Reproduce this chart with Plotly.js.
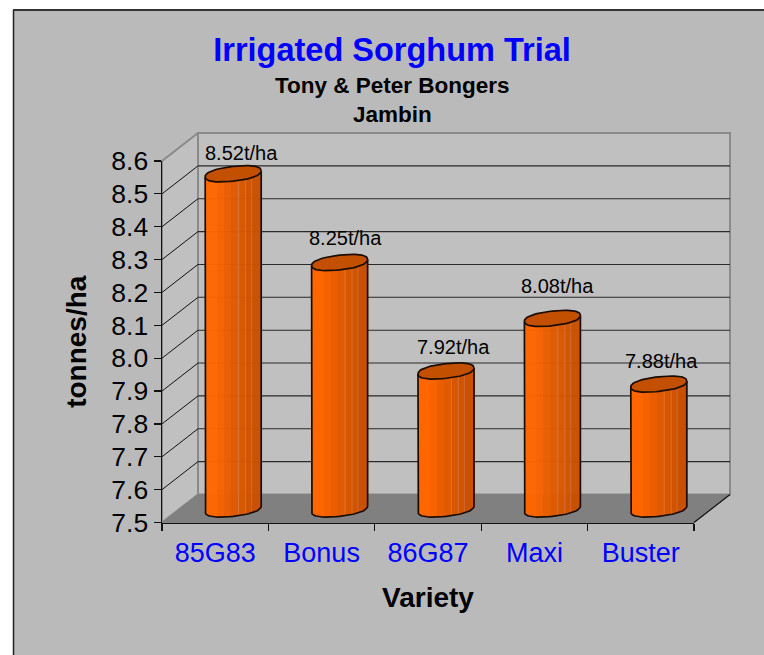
<!DOCTYPE html>
<html>
<head>
<meta charset="utf-8">
<script src="https://cdn.plot.ly/plotly-3.0.1.min.js"></script>
<style>html,body{margin:0;padding:0;background:#fff}#chart{width:764px;height:655px}</style>
</head>
<body>
<div id="chart"></div>
<script>
// ---- data ----
const categories = ['85G83', 'Bonus', '86G87', 'Maxi', 'Buster'];
const yields = [8.52, 8.25, 7.92, 8.08, 7.88];
const yTicks = [7.5, 7.6, 7.7, 7.8, 7.9, 8.0, 8.1, 8.2, 8.3, 8.4, 8.5, 8.6];
const yMin = 7.5, yMax = 8.6;

// ---- geometry & style ----
const W = 764, H = 655, FONT = 'Liberation Sans, Arial, sans-serif';
const front = {l: 162, r: 694, t: 161, b: 522.5};
const depth = {x: 36, y: 28};
const barShift = {x: 18, y: 13.5};
const pxCat = (front.r - front.l) / categories.length;
const pxVal = (front.b - front.t) / (yMax - yMin);
const barPx = 56, capTilt = 3, capB = 7.3, capPow = 2.3;
const labelNudge = [[8, -5], [6, -9], [7, -8], [5, -16], [3, -7]];
// colour bands across a cylinder, left to right: [pixels, colour]
const bands = [[12,'#FF6600'],[7,'#F76300'],[7,'#EA5E00'],[7,'#E05A00'],[1,'#DE7430'],[6,'#D85700'],[1,'#D66E30'],[5,'#D15400'],[1,'#CF6930'],[9,'#C95100']];

const xd = p => p / W, yd = p => 1 - p / H;
const dX = depth.x / pxCat, dY = depth.y / pxVal;
const pad = 30; // invisible padding so nothing clips at subplot edges
const padX = pad / pxCat, padY = pad / pxVal;

// scene axes: walls and floor
const scene = {
  x0: -0.5 - padX, x1: 4.5 + dX + padX, y0: yMin - padY, y1: yMax + dY + padY,
  dl: xd(front.l - pad), dr: xd(front.r + depth.x + pad),
  db: yd(front.b + pad), dt: yd(front.t - depth.y - pad)
};
const L = -0.5, R = 4.5;
const noHover = {hoverinfo: 'skip', showlegend: false};
function poly(xs, ys, fill, lineColor, lw) {
  return Object.assign({type:'scatter', mode:'lines', x:xs, y:ys, xaxis:'x', yaxis:'y',
    fill:'toself', fillcolor:fill, line:{color:lineColor, width:lw}}, noHover);
}
function path(xs, ys, color, w) {
  return Object.assign({type:'scatter', mode:'lines', x:xs, y:ys, xaxis:'x', yaxis:'y',
    line:{color:color, width:w}}, noHover);
}
const traces = [];
// walls
traces.push(poly([L, L+dX, L+dX, L, L], [yMin, yMin+dY, yMax+dY, yMax, yMin], '#C0C0C0', '#8A8A8A', 2));
traces.push(poly([L+dX, R+dX, R+dX, L+dX, L+dX], [yMin+dY, yMin+dY, yMax+dY, yMax+dY, yMin+dY], '#C0C0C0', '#8A8A8A', 2));
// gridlines
const inner = yTicks.slice(1, -1);
const backX = [], backY = [], diagX = [], diagY = [];
inner.forEach(v => {
  backX.push(L+dX, R+dX, null); backY.push(v+dY, v+dY, null);
  diagX.push(L, L+dX, null); diagY.push(v, v+dY, null);
});
traces.push(path(backX, backY, '#2a2a2a', 1.1));
traces.push(path(diagX, diagY, '#111111', 1));
// floor
traces.push(poly([L, R, R+dX, L+dX, L], [yMin, yMin, yMin+dY, yMin+dY, yMin], '#808080', '#808080', 1));
traces.push(path([R, R+dX], [yMin, yMin+dY], '#111111', 1.2));

// cylinder bodies: vertical strips of bar traces on the mid-depth axes
const capHalf = u => Math.pow(Math.max(0, 1 - Math.pow(Math.abs(u), capPow)), 1 / capPow);
let pos = 0;
const strips = [];
bands.forEach(b => { for (let k = 0; k < b[0]; k++) { strips.push({p: pos, c: b[1]}); pos++; } });
strips.forEach(s => {
  const u = ((s.p + 0.5) / barPx) * 2 - 1;
  const bottomOff = (capTilt * u - capB * capHalf(u)) / pxVal;
  const topOff = capTilt * u / pxVal;
  traces.push(Object.assign({
    type: 'bar', xaxis: 'x2', yaxis: 'y2',
    x: categories.map((_, i) => i),
    base: yields.map(() => yMin + bottomOff),
    y: yields.map(v => v + topOff - (yMin + bottomOff)),
    width: 1.6 / pxCat,
    offset: (s.p - barPx / 2 - 0.1) / pxCat,
    marker: {color: s.c, line: {width: 0}}
  }, noHover));
});
// cylinder outlines and caps: rounded, sheared discs
const ANG = 72;
function rim(t) {
  const c = Math.cos(t), sn = Math.sin(t), e = 2 / capPow;
  const u = Math.sign(c) * Math.pow(Math.abs(c), e), w = Math.sign(sn) * Math.pow(Math.abs(sn), e);
  return [u, w];
}
yields.forEach((v, i) => {
  const capX = [], capY = [];
  for (let a = 0; a <= ANG; a++) {
    const r = rim(a / ANG * 2 * Math.PI);
    capX.push(i + (barPx / 2) * r[0] / pxCat);
    capY.push(v + (capTilt * r[0] + capB * r[1]) / pxVal);
  }
  const outX = [], outY = [];
  for (let a = 0; a <= ANG / 2; a++) {
    const r = rim(Math.PI + a / (ANG / 2) * Math.PI);
    outX.push(i + (barPx / 2) * r[0] / pxCat);
    outY.push(yMin + (capTilt * r[0] + capB * r[1]) / pxVal);
  }
  const bodyX = [i - barPx / 2 / pxCat].concat(outX, [i + barPx / 2 / pxCat]);
  const bodyY = [v - capTilt / pxVal].concat(outY, [v + capTilt / pxVal]);
  traces.push(Object.assign({type:'scatter', mode:'lines', x:bodyX, y:bodyY, xaxis:'x2', yaxis:'y2',
    line:{color:'#1a0c00', width:1.7}}, noHover));
  traces.push(Object.assign({type:'scatter', mode:'lines', x:capX, y:capY, xaxis:'x2', yaxis:'y2',
    fill:'toself', fillcolor:'#C25000', line:{color:'#1a0c00', width:1.7}}, noHover));
});
// front axes carrying ticks and labels
traces.push(Object.assign({type:'scatter', mode:'markers', x:categories, y:yields,
  xaxis:'x3', yaxis:'y3', marker:{opacity:0}}, noHover));

const hidden = {visible:false, fixedrange:true};
const mid = {
  dl: xd(front.l + barShift.x), dr: xd(front.r + barShift.x),
  db: yd(front.b - barShift.y + pad), dt: yd(front.t - barShift.y - pad)
};
const layout = {
  width: W, height: H,
  margin: {l:0, r:0, t:0, b:0, pad:0},
  paper_bgcolor: '#FFFFFF', plot_bgcolor: 'rgba(0,0,0,0)',
  showlegend: false, barmode: 'overlay', hovermode: false,
  font: {family: FONT, color: '#000'},
  title: {text: '<b>Irrigated Sorghum Trial</b>', font: {size: 32.5, color: '#0000FF', family: FONT},
          x: 392 / W, xanchor: 'center', y: yd(50), yanchor: 'middle'},
  xaxis: Object.assign({domain:[scene.dl, scene.dr], range:[scene.x0, scene.x1], anchor:'y'}, hidden),
  yaxis: Object.assign({domain:[scene.db, scene.dt], range:[scene.y0, scene.y1], anchor:'x'}, hidden),
  xaxis2: Object.assign({domain:[mid.dl, mid.dr], range:[-0.5, 4.5], anchor:'y2'}, hidden),
  yaxis2: Object.assign({domain:[mid.db, mid.dt], range:[yMin - padY, yMax + padY], anchor:'x2'}, hidden),
  xaxis3: {
    domain:[xd(front.l), xd(front.r)], anchor:'y3', type:'category',
    categoryorder:'array', categoryarray:categories, tickson:'boundaries',
    range:[-0.5, 4.5], ticks:'outside', ticklen:7, tickcolor:'#111', tickwidth:1.2,
    showline:true, linecolor:'#111', linewidth:1.5, showgrid:false, zeroline:false, fixedrange:true,
    ticklabelstandoff:6,
    tickfont:{size:27, color:'#0000FF', family:FONT},
    title:{text:'<b>Variety</b>', font:{size:28, color:'#000', family:FONT}, standoff:20}
  },
  yaxis3: {
    domain:[yd(front.b), yd(front.t)], anchor:'x3', range:[yMin, yMax],
    tickvals:yTicks, ticktext:yTicks.map(v => v.toFixed(1)),
    ticks:'outside', ticklen:7, tickcolor:'#111', tickwidth:1.2,
    showline:true, linecolor:'#111', linewidth:1.5, showgrid:false, zeroline:false, fixedrange:true,
    tickfont:{size:26.5, color:'#000', family:FONT},
    title:{text:'<b>tonnes/ha</b>', font:{size:28, color:'#000', family:FONT}, standoff:16}
  },
  shapes: [
    {type:'rect', xref:'paper', yref:'paper', layer:'below', x0:xd(14), x1:1, y0:0, y1:yd(10.5),
     fillcolor:'#BABABA', line:{width:0}},
    {type:'line', xref:'paper', yref:'paper', layer:'below', x0:xd(13.5), x1:xd(13.5), y0:0, y1:yd(10), line:{color:'#222', width:1.5}},
    {type:'line', xref:'paper', yref:'paper', layer:'below', x0:xd(13), x1:1, y0:yd(10), y1:yd(10), line:{color:'#333', width:2}}
  ],
  annotations: [
    {xref:'paper', yref:'paper', x:392/W, y:yd(85), text:'<b>Tony &amp; Peter Bongers</b>', showarrow:false,
     font:{size:22.5, color:'#000', family:FONT}, xanchor:'center', yanchor:'middle'},
    {xref:'paper', yref:'paper', x:392/W, y:yd(115), text:'<b>Jambin</b>', showarrow:false,
     font:{size:22.5, color:'#000', family:FONT}, xanchor:'center', yanchor:'middle'}
  ].concat(yields.map((v, i) => ({
    xref:'x2', yref:'y2', x:i, y:v, text:v.toFixed(2) + 't/ha', showarrow:false,
    xshift:labelNudge[i][0], yshift:16 - labelNudge[i][1],
    font:{size:20, color:'#000', family:FONT}, xanchor:'center', yanchor:'middle'
  })))
};
Plotly.newPlot('chart', traces, layout, {staticPlot:true, displayModeBar:false});
</script>
</body>
</html>
